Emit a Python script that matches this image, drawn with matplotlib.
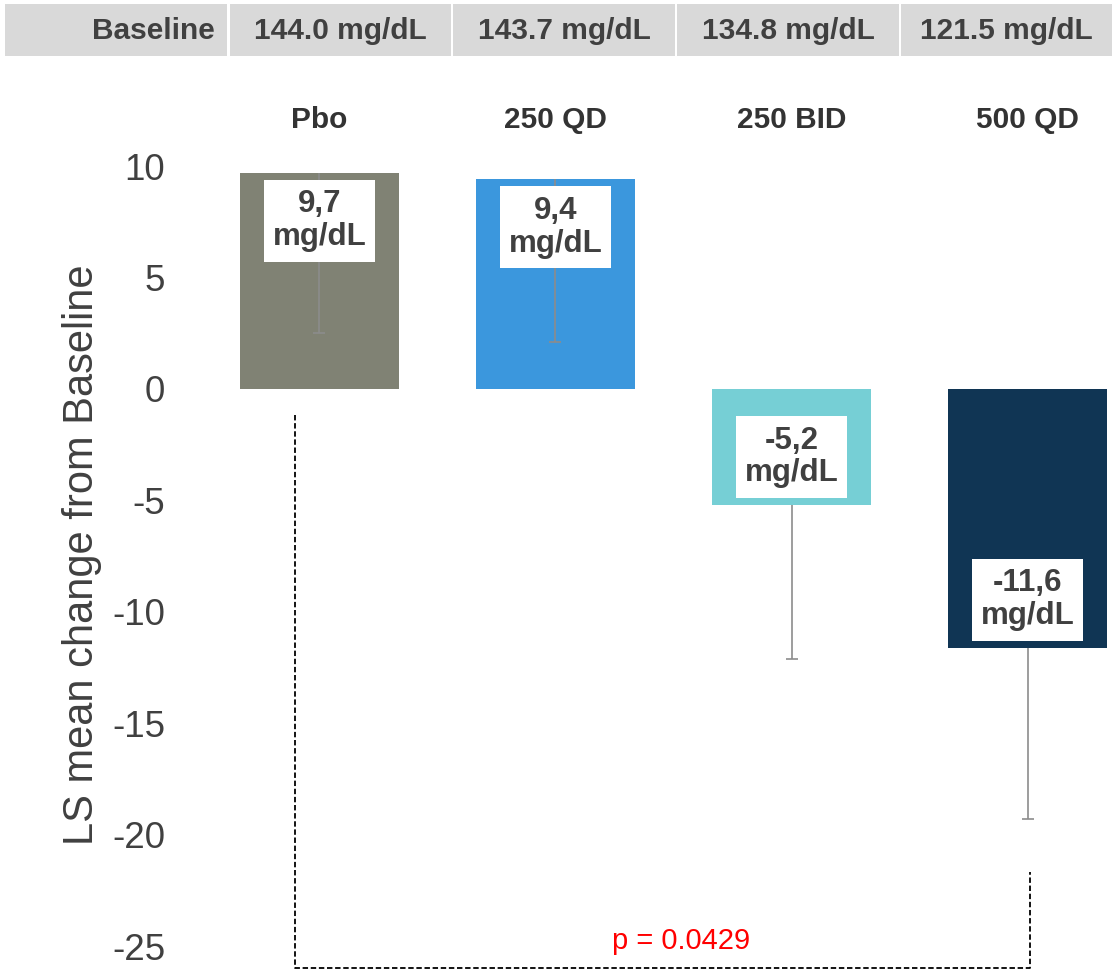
import matplotlib
matplotlib.use("Agg")
from matplotlib import pyplot as plt
from matplotlib.patches import Rectangle
import numpy as np

plt.rcParams['font.family'] = ['Liberation Sans', 'DejaVu Sans']

groups = ['Pbo', '250 QD', '250 BID', '500 QD']
baseline = ['144.0 mg/dL', '143.7 mg/dL', '134.8 mg/dL', '121.5 mg/dL']
change = [9.7, 9.4, -5.2, -11.6]
err_low = [7.2, 7.3, 6.9, 7.7]
colors = ['#808274', '#3b97dd', '#76cfd5', '#103554']
yticks = [10, 5, 0, -5, -10, -15, -20, -25]
p_value = 'p = 0.0429'

W, H = 1117, 973
fig = plt.figure(figsize=(W / 100, H / 100), dpi=100)
ax = fig.add_axes([175 / W, 0, 942 / W, 873 / H])

x = np.arange(len(groups))
vals = np.array(change)
low = vals - np.array(err_low)

ax.bar(x, vals, width=0.674, color=colors, zorder=2)

# one-sided error bars, cap only at the far end
ax.vlines(x, vals, low, color='#8c8c8c', lw=1.2, zorder=3)
ax.plot(x, low, ls='none', marker='_', ms=9, mew=1.2, color='#8c8c8c', zorder=3)

# value boxes sit inside the end of each bar
for xi, v in zip(x, vals):
    cy = v - np.sign(v) * 2.15
    ax.add_patch(Rectangle((xi - 0.237, cy - 1.84), 0.474, 3.68,
                           facecolor='white', edgecolor='none', zorder=4))
    ax.text(xi, cy, f"{v:.1f}".replace('.', ',') + "\nmg/dL", ha='center', va='center',
            fontsize=22.5, fontweight='bold', color='#404040', linespacing=1.12, zorder=5)

for xi, g in zip(x, groups):
    ax.text(xi, 12.06, g, ha='center', va='center', fontsize=21.5,
            fontweight='bold', color='#333333', clip_on=False)

# comparison bracket Pbo vs 500 QD
bx = [x[0] - 0.104, x[0] - 0.104, x[3] + 0.011, x[3] + 0.011]
by = [-1.17, -25.96, -25.96, low[3] - 2.36]
ax.plot(bx, by, color='black', lw=1.3, ls=(0, (3, 1.5)), clip_on=False, zorder=1)
ax.text(1.53, -24.75, p_value, ha='center', va='center', fontsize=21, color='#ff0000')

ax.set_xlim(-0.612, 3.379)
ax.set_ylim(-26.19, 12.96)
ax.set_yticks(yticks)
ax.set_yticklabels([str(t) for t in yticks], fontsize=26.5, color='#404040')
ax.set_xticks([])
ax.tick_params(axis='y', length=0, pad=7)
for s in ax.spines.values():
    s.set_visible(False)

fig.text(82 / W, 1 - 555 / H, 'LS mean change from Baseline', rotation=90,
         ha='center', va='center', fontsize=30, color='#404040')

# header row with baseline values
cells = [(5, 227), (230, 451), (453, 675), (677, 899), (901, 1112)]
labels = ['Baseline'] + baseline
for (c0, c1), lab in zip(cells, labels):
    fig.add_artist(Rectangle((c0 / W, 1 - 56 / H), (c1 - c0) / W, 52 / H,
                             transform=fig.transFigure, facecolor='#d9d9d9',
                             edgecolor='none'))
    if lab == 'Baseline':
        fig.text((c1 - 12) / W, 1 - 31 / H, lab, ha='right', va='center',
                 fontsize=21.5, fontweight='bold', color='#404040')
    else:
        fig.text((c0 + c1) / 2 / W, 1 - 31 / H, lab, ha='center', va='center',
                 fontsize=21.5, fontweight='bold', color='#404040')

fig.savefig('out.png', dpi=100)
